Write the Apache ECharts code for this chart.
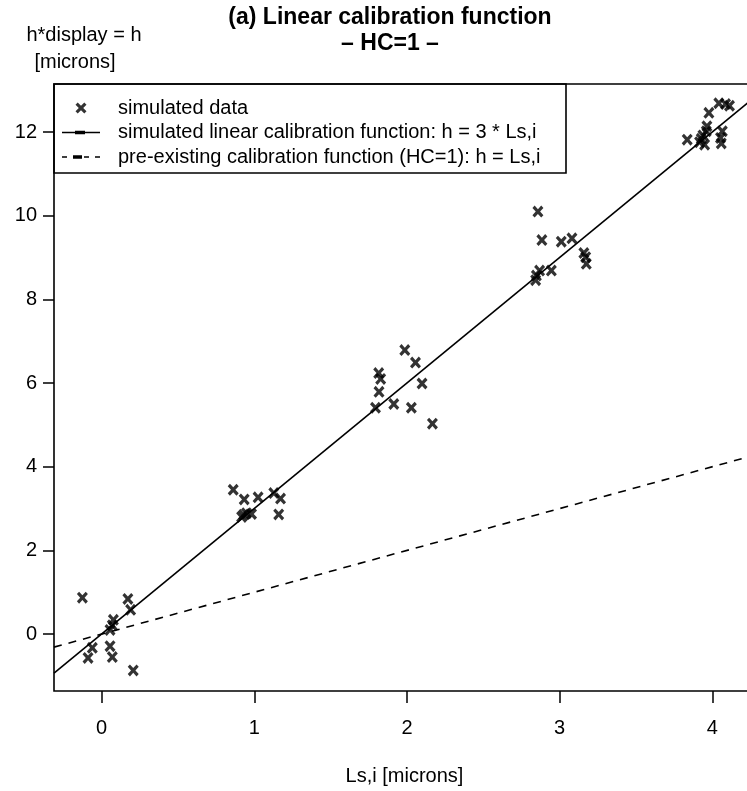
<!DOCTYPE html>
<html>
<head>
<meta charset="utf-8">
<script src="https://cdn.jsdelivr.net/npm/echarts@6/dist/echarts.min.js"></script>
<style>
  html, body { margin: 0; padding: 0; background: #fff; overflow: hidden; }
  #chart { width: 770px; height: 791px; }
</style>
</head>
<body>
<div id="chart"></div>
<script>
// ---- data ----
const simX = [
  -0.126, 0.172, 0.19, 0.077, 0.07, 0.055, -0.061, -0.089, 0.055, 0.07, 0.207,
  0.862, 0.934, 1.025, 1.128, 1.172, 1.16, 0.917, 0.93, 0.949, 0.982,
  1.986, 2.056, 1.815, 1.828, 2.099, 1.817, 1.914, 1.794, 2.029, 2.167,
  2.858, 2.884, 3.011, 3.081, 3.159, 3.171, 3.175, 2.869, 2.946, 2.848, 2.843,
  4.043, 4.087, 4.113, 3.978, 3.965, 3.961, 3.939, 3.928, 3.917, 3.836, 4.066, 4.054, 4.059, 3.95
];
const simY = [
  0.87, 0.84, 0.58, 0.34, 0.21, 0.10, -0.33, -0.57, -0.29, -0.55, -0.87,
  3.45, 3.22, 3.27, 3.37, 3.24, 2.86, 2.80, 2.85, 2.89, 2.87,
  6.79, 6.49, 6.24, 6.10, 5.99, 5.79, 5.50, 5.41, 5.41, 5.03,
  10.10, 9.42, 9.38, 9.46, 9.11, 9.01, 8.85, 8.69, 8.69, 8.57, 8.46,
  12.69, 12.67, 12.63, 12.46, 12.14, 12.02, 11.92, 11.84, 11.76, 11.82, 12.02, 11.86, 11.73, 11.70
];
const xTicks = [0, 1, 2, 3, 4];
const yTicks = [0, 2, 4, 6, 8, 10, 12];
const X_MIN = -0.312, X_MAX = 4.28;
const Y_MIN = -1.361, Y_MAX = 13.15;
const slopeSim = 3;   // h = 3 * Ls,i
const slopePre = 1;   // h = Ls,i
const lineX = [X_MIN, X_MAX];

const nameData = 'simulated data';
const nameSim = 'simulated linear calibration function: h = 3 * Ls,i';
const namePre = 'pre-existing calibration function (HC=1): h = Ls,i';

const FONT = '"Liberation Sans", Arial, Helvetica, sans-serif';
const XMARK = 'path://M0,2L2,0L5,3L8,0L10,2L7,5L10,8L8,10L5,7L2,10L0,8L3,5Z';
const ICON_SOLID = 'path://M0,1h38v1.5h-38Z M13,0h10v3.5h-10Z';
const ICON_DASH = 'path://M0,1h5v1.5h-5Z M11,0h9v3.5h-9Z M22,1h5v1.5h-5Z M33,1h5v1.5h-5Z';

const chart = echarts.init(document.getElementById('chart'), null, { renderer: 'canvas' });
chart.setOption({
  animation: false,
  backgroundColor: '#fff',
  textStyle: { fontFamily: FONT, color: '#000' },
  grid: {
    left: 54, top: 84, right: 15, bottom: 96,
    show: true, borderColor: '#000', borderWidth: 1.6, backgroundColor: 'transparent'
  },
  xAxis: {
    type: 'value', min: X_MIN, max: X_MAX,
    name: 'Ls,i [microns]', nameLocation: 'middle', nameGap: 75,
    nameTextStyle: { fontSize: 20, fontFamily: FONT, color: '#000', verticalAlign: 'top' },
    axisLine: { show: false, onZero: false },
    axisTick: { show: true, length: 12, lineStyle: { color: '#000', width: 1.5 }, customValues: xTicks },
    axisLabel: { fontSize: 20, fontFamily: FONT, color: '#000', margin: 27, customValues: xTicks },
    splitLine: { show: false }
  },
  yAxis: {
    type: 'value', min: Y_MIN, max: Y_MAX,
    axisLine: { show: false, onZero: false },
    axisTick: { show: true, length: 11, lineStyle: { color: '#000', width: 1.5 }, customValues: yTicks },
    axisLabel: { fontSize: 20, fontFamily: FONT, color: '#000', margin: 17, customValues: yTicks },
    splitLine: { show: false }
  },
  legend: {
    orient: 'vertical', left: 62, top: 98, padding: 0,
    itemWidth: 38, itemHeight: 11, itemGap: 4.5,
    textStyle: { fontSize: 20, fontFamily: FONT, color: '#000', lineHeight: 20, padding: [0, 0, 0, 13] },
    data: [
      { name: nameData },
      { name: nameSim, icon: ICON_SOLID },
      { name: namePre, icon: ICON_DASH }
    ]
  },
  graphic: [
    { type: 'rect', shape: { x: 54, y: 84, width: 512, height: 89 },
      style: { fill: 'none', stroke: '#000', lineWidth: 1.6 }, z: 10 },
    { type: 'text', x: 390, y: 18, style: { text: '(a) Linear calibration function', font: 'bold 23px ' + FONT,
      fill: '#000', textAlign: 'center', textVerticalAlign: 'middle' } },
    { type: 'text', x: 390, y: 44, style: { text: '– HC=1 –', font: 'bold 23px ' + FONT,
      fill: '#000', textAlign: 'center', textVerticalAlign: 'middle' } },
    { type: 'text', x: 84, y: 35, style: { text: 'h*display = h', font: '20px ' + FONT,
      fill: '#000', textAlign: 'center', textVerticalAlign: 'middle' } },
    { type: 'text', x: 75, y: 62, style: { text: '[microns]', font: '20px ' + FONT,
      fill: '#000', textAlign: 'center', textVerticalAlign: 'middle' } }
  ],
  series: [
    {
      name: nameData, type: 'scatter',
      symbol: XMARK, symbolSize: [11, 12],
      itemStyle: { color: '#000' },
      data: simX.map((x, i) => [x, simY[i]]),
      z: 5
    },
    {
      name: nameSim, type: 'line', symbol: 'none',
      lineStyle: { color: '#000', width: 1.6, type: 'solid' },
      itemStyle: { color: '#000' },
      data: lineX.map(x => [x, slopeSim * x])
    },
    {
      name: namePre, type: 'line', symbol: 'none',
      lineStyle: { color: '#000', width: 1.6, type: [8, 7] },
      itemStyle: { color: '#000' },
      data: lineX.map(x => [x, slopePre * x])
    }
  ]
});
</script>
</body>
</html>
